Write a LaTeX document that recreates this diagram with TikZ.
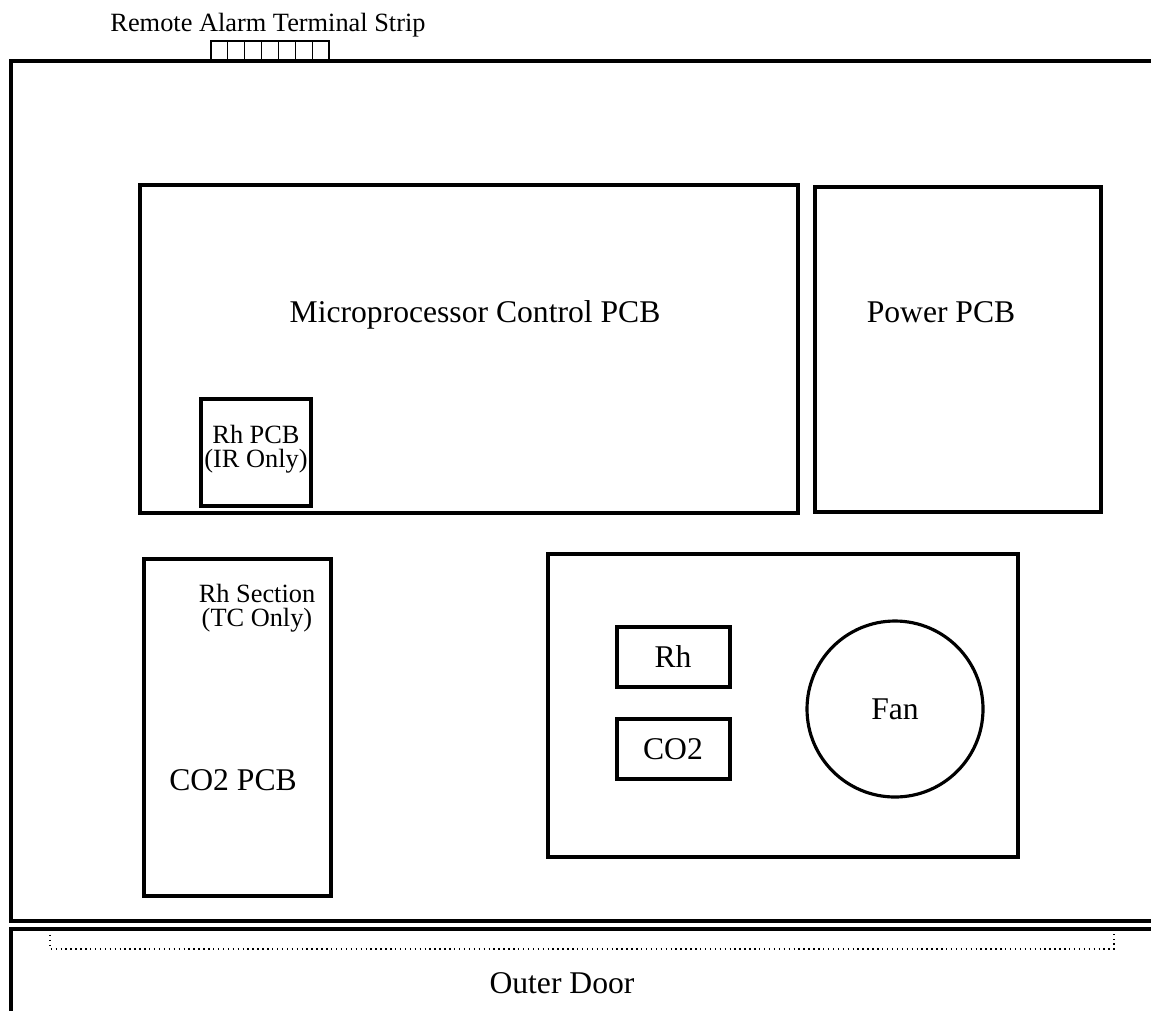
\documentclass[tikz,border=0pt]{standalone}
\usepackage{fontspec}
\setmainfont{Liberation Serif}
\usepackage{tikz}

\begin{document}
\begin{tikzpicture}[x=0.02cm,y=-0.02cm,line width=1.8pt,
  wall/.style={line width=2.3pt},
  board/.style={line width=1.8pt},
  big/.style={font=\fontsize{18}{21}\selectfont},
  small/.style={font=\fontsize{15}{13.6}\selectfont,align=center}]
  \useasboundingbox (0,0) rectangle (1151,1011);

  % cabinet and outer door
  \draw[wall] (1151,61) -- (11,61) -- (11,921) -- (1151,921);
  \draw[wall] (1151,929) -- (11,929) -- (11,1011);
  \draw[line width=0.8pt,dotted] (50,930) -- (50,949) -- (1114,949) -- (1114,930);
  \node[big,anchor=base] (door) at (562,993) {Outer Door};

  % remote alarm terminal strip
  \foreach \i in {0,...,6}
    \draw[line width=0.6pt] ({211+\i*16.86},61) rectangle ({211+(\i+1)*16.86},41);
  \node[small,anchor=base] (strip) at (268,31) {Remote Alarm Terminal Strip};

  % boards
  \draw[board] (140,185) rectangle (798,513);
  \node[big,anchor=base] (micro) at (475,322) {Microprocessor Control PCB};
  \draw[board] (201,399) rectangle (311,506);
  \node[small,anchor=base] (rhpcb) at (256,467) {Rh PCB\\(IR Only)};

  \draw[board] (815,187) rectangle (1101,512);
  \node[big,anchor=base] (power) at (941,322) {Power PCB};

  \draw[board] (144,559) rectangle (331,896);
  \node[small,anchor=base] (rhsec) at (257,626) {Rh Section\\(TC Only)};
  \node[big,anchor=base] (co2pcb) at (233,790) {CO2 PCB};

  % sensor and fan compartment
  \draw[board] (548,554) rectangle (1018,857);
  \draw[board] (617,627) rectangle (730,687);
  \node[big,anchor=base] (rh) at (673,667) {Rh};
  \draw[board] (617,719) rectangle (730,779);
  \node[big,anchor=base] (co2) at (673,759) {CO2};
  \draw[board] (895,709) circle[radius=88];
  \node[big] (fan) at (895,709) {Fan};
\end{tikzpicture}
\end{document}
